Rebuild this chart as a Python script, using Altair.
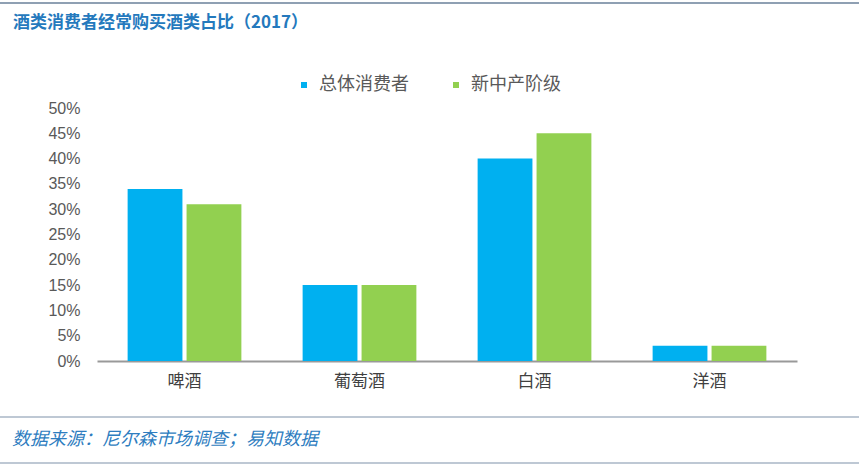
import altair as alt
import pandas as pd

categories = ["啤酒", "葡萄酒", "白酒", "洋酒"]
series_names = ["总体消费者", "新中产阶级"]
total_consumers = [0.34, 0.15, 0.40, 0.03]
new_middle_class = [0.31, 0.15, 0.45, 0.03]
y_ticks = [0, 0.05, 0.10, 0.15, 0.20, 0.25, 0.30, 0.35, 0.40, 0.45, 0.50]

rows = []
for c, a, b in zip(categories, total_consumers, new_middle_class):
    rows.append({"cat": c, "series": series_names[0], "value": a})
    rows.append({"cat": c, "series": series_names[1], "value": b})
df = pd.DataFrame(rows)

FONT = "Liberation Sans, Noto Sans CJK SC, sans-serif"
CJK = "Noto Sans CJK SC, sans-serif"

bars = alt.Chart(df).mark_bar().encode(
    x=alt.X("cat:N", sort=categories, title=None,
            scale=alt.Scale(paddingInner=0.35, paddingOuter=0.175),
            axis=alt.Axis(labelAngle=0, labelFont=CJK, labelFontSize=17,
                          labelColor="#404040", labelPadding=12, ticks=False,
                          domainColor="#999999", domainWidth=2)),
    xOffset=alt.XOffset("series:N", sort=series_names,
                        scale=alt.Scale(paddingInner=0.07, paddingOuter=0)),
    y=alt.Y("value:Q", title=None,
            scale=alt.Scale(domain=[0, 0.5], nice=False),
            axis=alt.Axis(values=y_ticks, format=".0%", grid=False, domain=False,
                          ticks=False, labelFont=FONT, labelFontSize=16,
                          labelColor="#595959", labelPadding=17)),
    color=alt.Color("series:N", sort=series_names, title=None,
                    scale=alt.Scale(domain=series_names, range=["#00B0F0", "#92D050"]),
                    legend=alt.Legend(orient="none", legendX=198, legendY=-32,
                                      direction="horizontal", symbolType="square",
                                      symbolSize=36, labelFont=CJK, labelFontSize=18,
                                      labelColor="#595959", labelOffset=6,
                                      columnPadding=38, padding=0, symbolStrokeWidth=0)),
)

title_df = pd.DataFrame({"t": ["酒类消费者经常购买酒类占比（2017）"]})
title = alt.Chart(title_df).mark_text(
    align="left", baseline="middle", font=CJK, fontSize=17, fontWeight="bold",
    color="#2479BD").encode(text="t:N", x=alt.value(-84), y=alt.value(-85))

foot_df = pd.DataFrame({"t": ["数据来源：尼尔森市场调查；易知数据"]})
footer = alt.Chart(foot_df).mark_text(
    align="left", baseline="middle", font=CJK, fontSize=18, fontStyle="italic",
    color="#2E7DBF").encode(text="t:N", x=alt.value(-85), y=alt.value(332))

line_top = alt.Chart(title_df).mark_rule(color="#8FA0B3", strokeWidth=2).encode(
    x=alt.value(-97), x2=alt.value(762), y=alt.value(-105))
line_f1 = alt.Chart(title_df).mark_rule(color="#A8B6C6", strokeWidth=1.5).encode(
    x=alt.value(-97), x2=alt.value(762), y=alt.value(309))
line_f2 = alt.Chart(title_df).mark_rule(color="#A8B6C6", strokeWidth=1.5).encode(
    x=alt.value(-97), x2=alt.value(762), y=alt.value(355))

chart = alt.layer(bars, title, footer, line_top, line_f1, line_f2).properties(
    width=700, height=253,
    autosize=alt.AutoSizeParams(type="none"),
    padding={"left": 97, "top": 108, "right": 62, "bottom": 110},
    background="white",
).configure_view(stroke=None)

chart.save("out.html", embed_options={"renderer": "svg", "actions": False})
